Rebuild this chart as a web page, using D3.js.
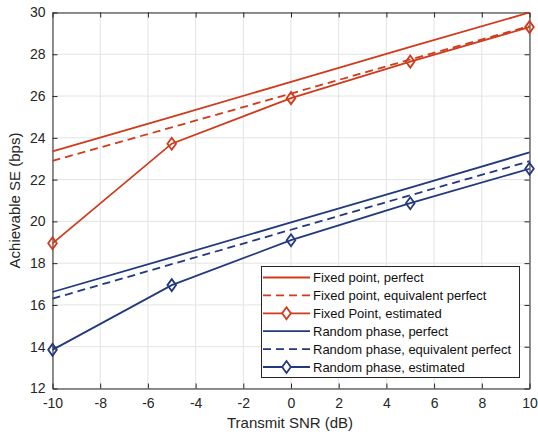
<!DOCTYPE html>
<html><head><meta charset="utf-8">
<script src="https://cdn.jsdelivr.net/npm/d3@7"></script>
<style>body{margin:0;background:#fff}svg{display:block;font-family:"Liberation Sans",Arial,sans-serif}</style>
</head><body><svg id="c" width="538" height="432"></svg>
<script>
const snr = [-10, -5, 0, 5, 10];
const fixedPerfect = [23.35, 25.0, 26.68, 28.35, 30.0];
const fixedEquiv = [22.9, 24.5, 26.12, 27.75, 29.35];
const fixedEst = [18.95, 23.72, 25.9, 27.65, 29.3];
const randPerfect = [16.62, 18.28, 19.95, 21.62, 23.3];
const randEquiv = [16.3, 17.95, 19.6, 21.25, 22.88];
const randEst = [13.85, 16.95, 19.1, 20.87, 22.52];
const xTicks = [-10, -8, -6, -4, -2, 0, 2, 4, 6, 8, 10];
const yTicks = [12, 14, 16, 18, 20, 22, 24, 26, 28, 30];
const seriesNames = ["Fixed point, perfect", "Fixed point, equivalent perfect", "Fixed Point, estimated",
  "Random phase, perfect", "Random phase, equivalent perfect", "Random phase, estimated"];

const RED = "#cf3b1b", BLUE = "#22397f";
const series = [
  {name: seriesNames[0], v: fixedPerfect, c: RED, dash: null, m: false},
  {name: seriesNames[1], v: fixedEquiv, c: RED, dash: "8,5", m: false},
  {name: seriesNames[2], v: fixedEst, c: RED, dash: null, m: true},
  {name: seriesNames[3], v: randPerfect, c: BLUE, dash: null, m: false},
  {name: seriesNames[4], v: randEquiv, c: BLUE, dash: "8,5", m: false},
  {name: seriesNames[5], v: randEst, c: BLUE, dash: null, m: true},
];

const L = 52.5, R = 529.5, T = 12.5, B = 388.5;
const svg = d3.select("#c");
const x = d3.scaleLinear().domain([-10, 10]).range([L, R]);
const y = d3.scaleLinear().domain([12, 30]).range([B, T]);

// grid
const g = svg.append("g");
g.selectAll(".gx").data(xTicks).join("line").attr("x1", d => x(d)).attr("x2", d => x(d))
  .attr("y1", T).attr("y2", B).attr("stroke", "#e3e3e3").attr("stroke-width", 1);
g.selectAll(".gy").data(yTicks).join("line").attr("y1", d => y(d)).attr("y2", d => y(d))
  .attr("x1", L).attr("x2", R).attr("stroke", "#e3e3e3").attr("stroke-width", 1);

// axes
const fmt = d => String(d);
const ax = d3.axisBottom(x).tickValues(xTicks).tickFormat(fmt).tickSizeInner(-5).tickSizeOuter(0).tickPadding(10);
const ay = d3.axisLeft(y).tickValues(yTicks).tickFormat(fmt).tickSizeInner(-5).tickSizeOuter(0).tickPadding(7);
const axT = d3.axisTop(x).tickValues(xTicks).tickSizeInner(-5).tickSizeOuter(0).tickFormat("");
const ayR = d3.axisRight(y).tickValues(yTicks).tickSizeInner(-5).tickSizeOuter(0).tickFormat("");
function style(sel) {
  sel.select(".domain").attr("stroke", "#262626").attr("stroke-width", 1);
  sel.selectAll(".tick line").attr("stroke", "#262626");
  sel.selectAll(".tick text").attr("fill", "#262626").style("font-size", "14px").style("font-family", "Liberation Sans, Arial, sans-serif");
}
svg.append("g").attr("transform", `translate(0,${B})`).call(ax).call(style);
svg.append("g").attr("transform", `translate(${L},0)`).call(ay).call(style);
svg.append("g").attr("transform", `translate(0,${T})`).call(axT).call(style);
svg.append("g").attr("transform", `translate(${R},0)`).call(ayR).call(style);

// lines
const line = d3.line().x((d, i) => x(snr[i])).y(d => y(d));
const diamond = (cx, cy, s) => `M${cx},${cy - s}L${cx + s * 0.72},${cy}L${cx},${cy + s}L${cx - s * 0.72},${cy}Z`;
const pg = svg.append("g");
series.forEach(s => {
  pg.append("path").attr("d", line(s.v)).attr("fill", "none").attr("stroke", s.c)
    .attr("stroke-width", 1.8).attr("stroke-dasharray", s.dash);
  if (s.m) {
    pg.selectAll(null).data(s.v).join("path").attr("d", (d, i) => diamond(x(snr[i]), y(d), 6))
      .attr("fill", "none").attr("stroke", s.c).attr("stroke-width", 1.8);
  }
});

// legend
const lg = svg.append("g");
const lx = 261.5, ly = 266.5, lw = 258, lh = 111;
lg.append("rect").attr("x", lx).attr("y", ly).attr("width", lw).attr("height", lh)
  .attr("fill", "#fff").attr("stroke", "#262626").attr("stroke-width", 1);
series.forEach((s, i) => {
  const yy = 277.5 + i * 17.9;
  lg.append("line").attr("x1", 263).attr("x2", 310).attr("y1", yy).attr("y2", yy)
    .attr("stroke", s.c).attr("stroke-width", 1.8).attr("stroke-dasharray", s.dash);
  if (s.m) lg.append("path").attr("d", diamond(286.5, yy, 6)).attr("fill", "#fff").attr("stroke", s.c).attr("stroke-width", 1.8);
  lg.append("text").attr("x", 313).attr("y", yy + 4.5).text(s.name).attr("fill", "#111")
    .style("font-size", "13px");
});

// axis titles
svg.append("text").attr("x", 290).attr("y", 428).attr("text-anchor", "middle")
  .attr("fill", "#262626").style("font-size", "15px").text("Transmit SNR (dB)");
svg.append("text").attr("transform", `translate(20,${(T + B) / 2}) rotate(-90)`).attr("text-anchor", "middle")
  .attr("fill", "#262626").style("font-size", "15px").text("Achievable SE (bps)");
</script></body></html>
